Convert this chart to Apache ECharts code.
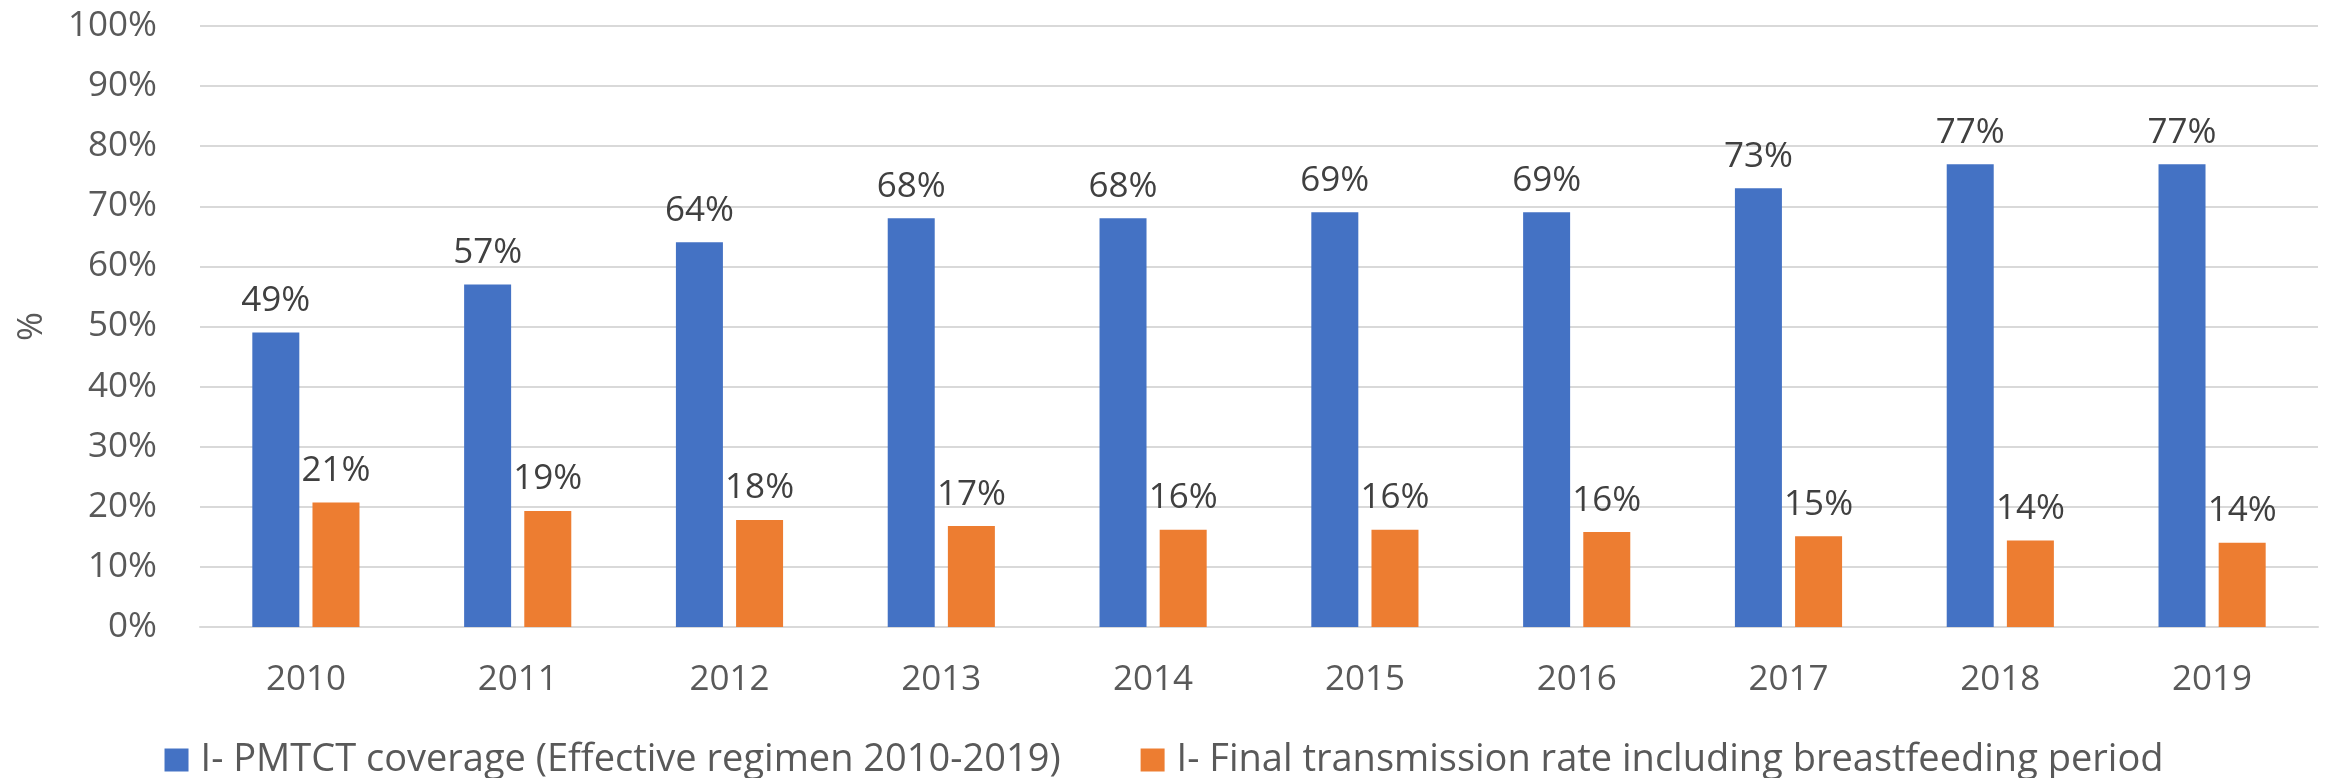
<!DOCTYPE html>
<html>
<head>
<meta charset="utf-8">
<title>PMTCT coverage</title>
<script src="https://cdn.jsdelivr.net/npm/echarts/dist/echarts.min.js"></script>
<style>
	html, body { margin: 0; padding: 0; background: #fff; }
	#main { width: 2328px; height: 778px; }
</style>
</head>
<body>
<div id="main"></div>
<script>
// data
let years = ['2010', '2011', '2012', '2013', '2014', '2015', '2016', '2017', '2018', '2019']
let coverage = [49, 57, 64, 68, 68, 69, 69, 73, 77, 77]
let transmission = [20.7, 19.3, 17.8, 16.8, 16.2, 16.2, 15.8, 15.1, 14.4, 14.0]
let seriesNames = [
	'I- PMTCT coverage (Effective regimen 2010-2019)',
	'I- Final transmission rate including breastfeeding period'
]

let font = 'Open Sans'

let myChart = echarts.init(document.getElementById('main'))

let labelStyle = {
	show: true,
	position: 'top',
	distance: 14,
	fontFamily: font,
	fontSize: 35,
	color: '#404040',
	formatter: function(p) {
		return Math.round(p.value) + '%'
	}
}

var option = {
	animation: false,
	backgroundColor: '#fff',
	legend: {
		left: 'center',
		top: 736,
		itemWidth: 24,
		itemHeight: 23,
		itemGap: 80,
		icon: 'rect',
		textStyle: {
			fontFamily: font,
			fontSize: 38,
			color: '#595959',
			padding: [0, 0, 0, 7]
		},
		data: seriesNames
	},
	grid: {
		left: 200,
		right: 10,
		top: 26,
		bottom: 151
	},
	xAxis: {
		type: 'category',
		data: years,
		axisLine: { lineStyle: { color: '#d9d9d9', width: 2 } },
		axisTick: { show: false },
		axisLabel: {
			margin: 36,
			fontFamily: font,
			fontSize: 35,
			color: '#595959'
		}
	},
	yAxis: {
		type: 'value',
		min: 0,
		max: 100,
		interval: 10,
		name: '%',
		nameLocation: 'middle',
		nameGap: 150,
		nameTextStyle: {
			fontFamily: font,
			fontSize: 35,
			color: '#595959'
		},
		axisLabel: {
			margin: 43,
			fontFamily: font,
			fontSize: 35,
			color: '#595959',
			formatter: '{value}%'
		},
		splitLine: { lineStyle: { color: '#d9d9d9', width: 2 } }
	},
	series: [{
			name: seriesNames[0],
			type: 'bar',
			data: coverage,
			barWidth: 47,
			barGap: '28%',
			itemStyle: { color: '#4472C4' },
			label: labelStyle
		},
		{
			name: seriesNames[1],
			type: 'bar',
			data: transmission,
			barWidth: 47,
			barGap: '28%',
			itemStyle: { color: '#ED7D31' },
			label: labelStyle
		}
	]
}

myChart.setOption(option)
</script>
</body>
</html>
